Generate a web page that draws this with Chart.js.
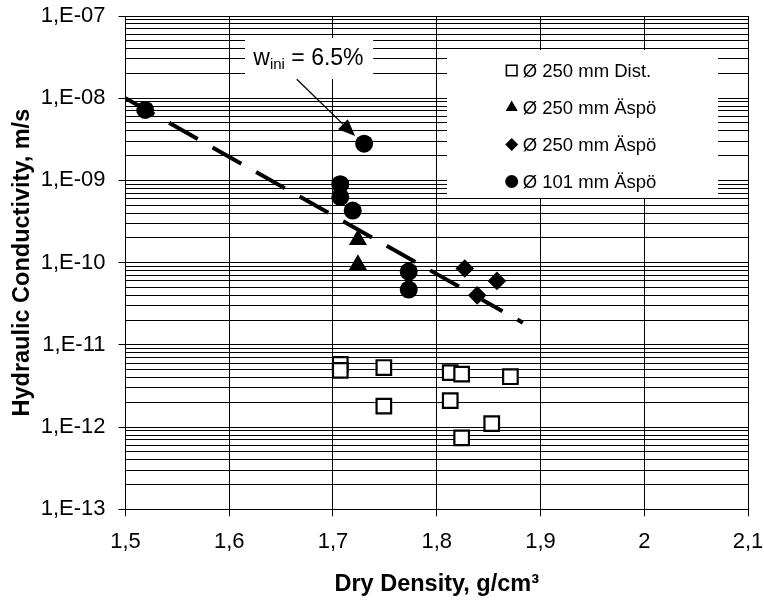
<!DOCTYPE html>
<html>
<head>
<meta charset="utf-8">
<script src="https://cdn.jsdelivr.net/npm/chart.js@4/dist/chart.umd.min.js"></script>
<style>
  html, body { margin: 0; padding: 0; background: #fff; }
  #wrap { width: 764px; height: 603px; }
</style>
</head>
<body>
<div id="wrap"><canvas id="chart" width="764" height="603"></canvas></div>
<script>
const seriesLabels = ["Ø 250 mm Dist.", "Ø 250 mm Äspö", "Ø 250 mm Äspö", "Ø 101 mm Äspö"]

const distX = [1.707, 1.707, 1.749, 1.749, 1.813, 1.824, 1.871, 1.813, 1.853, 1.824]
const distY = [5.8e-12, 4.9e-12, 5.3e-12, 1.8e-12, 4.6e-12, 4.4e-12, 4.1e-12, 2.1e-12, 1.1e-12, 7.4e-13]

const triX = [1.724, 1.724]
const triY = [1.9e-10, 9.4e-11]

const diaX = [1.827, 1.858, 1.839]
const diaY = [8.5e-11, 6.0e-11, 4.0e-11]

const circX = [1.519, 1.73, 1.707, 1.707, 1.719, 1.773, 1.773]
const circY = [7.2e-9, 2.8e-9, 9.0e-10, 6.3e-10, 4.3e-10, 7.8e-11, 4.7e-11]

const trendX = [1.5, 1.883]
const trendY = [1e-8, 1.86e-11]

const xTicks = [1.5, 1.6, 1.7, 1.8, 1.9, 2.0, 2.1]
const xTickLabels = ["1,5", "1,6", "1,7", "1,8", "1,9", "2", "2,1"]
const yExps = [-13, -12, -11, -10, -9, -8, -7]
const yTickLabels = ["1,E-13", "1,E-12", "1,E-11", "1,E-10", "1,E-09", "1,E-08", "1,E-07"]

const FONT = "'Liberation Sans', Arial, sans-serif"

const toPoints = (xs, ys) => xs.map((x, i) => ({ x, y: ys[i] }))

const isDecade = (v) => {
  const e = Math.round(Math.log10(v))
  return Math.abs(v / Math.pow(10, e) - 1) < 1e-6
}

const markerStyles = [
  { pointStyle: "rect", radius: 7.5, borderWidth: 1.6, fill: "#fff" },
  { pointStyle: "triangle", radius: 7, borderWidth: 0, fill: "#000" },
  { pointStyle: "rectRot", radius: 6.5, borderWidth: 0, fill: "#000" },
  { pointStyle: "circle", radius: 6.5, borderWidth: 0, fill: "#000" },
]

const extras = {
  id: "extras",
  beforeDatasetsDraw(chart) {
    const { ctx, scales } = chart
    const x = scales.x
    const y = scales.y
    ctx.save()
    ctx.fillStyle = "#fff"
    // legend background
    ctx.fillRect(447, 50, 271, 148)
    // annotation background
    const bx1 = x.getPixelForValue(1.6152)
    const bx2 = x.getPixelForValue(1.7387)
    const by1 = y.getPixelForValue(5.4e-8)
    const by2 = y.getPixelForValue(1.71e-8)
    ctx.fillRect(bx1, by1, bx2 - bx1, by2 - by1)
    ctx.restore()
  },
  afterDatasetsDraw(chart) {
    const { ctx, scales } = chart
    const x = scales.x
    const y = scales.y
    ctx.save()

    // arrow
    const tx = x.getPixelForValue(1.6651)
    const ty = y.getPixelForValue(1.7e-8)
    const hx = x.getPixelForValue(1.7213)
    const hy = y.getPixelForValue(3.47e-9)
    const ang = Math.atan2(hy - ty, hx - tx)
    const headLen = 17
    const headW = 7
    const bxp = hx - headLen * Math.cos(ang)
    const byp = hy - headLen * Math.sin(ang)
    ctx.strokeStyle = "#000"
    ctx.lineWidth = 1.3
    ctx.beginPath()
    ctx.moveTo(tx, ty)
    ctx.lineTo(bxp, byp)
    ctx.stroke()
    ctx.fillStyle = "#000"
    ctx.beginPath()
    ctx.moveTo(hx, hy)
    ctx.lineTo(bxp + headW * Math.sin(ang), byp - headW * Math.cos(ang))
    ctx.lineTo(bxp - headW * Math.sin(ang), byp + headW * Math.cos(ang))
    ctx.closePath()
    ctx.fill()

    // annotation text
    let ax = x.getPixelForValue(1.6232)
    const ay = y.getPixelForValue(2.53e-8)
    ctx.textBaseline = "alphabetic"
    ctx.textAlign = "left"
    ctx.font = "23px " + FONT
    ctx.fillText("w", ax, ay)
    ax += ctx.measureText("w").width
    ctx.font = "15px " + FONT
    ctx.fillText("ini", ax, ay + 4)
    ax += ctx.measureText("ini").width
    ctx.font = "23px " + FONT
    ctx.fillText(" = 6.5%", ax, ay)

    // legend
    ctx.font = "18.5px " + FONT
    seriesLabels.forEach((label, i) => {
      const cy = 70.5 + i * 37
      const m = markerStyles[i]
      ctx.fillStyle = m.fill
      ctx.strokeStyle = "#000"
      ctx.lineWidth = m.borderWidth
      Chart.helpers.drawPoint(ctx, { pointStyle: m.pointStyle, radius: m.radius, rotation: 0, borderWidth: m.borderWidth }, 511.7, cy)
      ctx.fillStyle = "#000"
      ctx.fillText(label, 522.7, cy + 6.6)
    })
    ctx.restore()
  },
}

new Chart(document.getElementById("chart"), {
  type: "scatter",
  data: {
    datasets: [
      {
        label: seriesLabels[0],
        data: toPoints(distX, distY),
        pointStyle: "rect",
        pointRadius: 10.3,
        pointBorderWidth: 2.2,
        pointBackgroundColor: "#fff",
        pointBorderColor: "#000",
      },
      {
        label: seriesLabels[1],
        data: toPoints(triX, triY),
        pointStyle: "triangle",
        pointRadius: 10.5,
        pointBorderWidth: 0,
        pointBackgroundColor: "#000",
        pointBorderColor: "#000",
      },
      {
        label: seriesLabels[2],
        data: toPoints(diaX, diaY),
        pointStyle: "rectRot",
        pointRadius: 9.3,
        pointBorderWidth: 0,
        pointBackgroundColor: "#000",
        pointBorderColor: "#000",
      },
      {
        label: seriesLabels[3],
        data: toPoints(circX, circY),
        pointStyle: "circle",
        pointRadius: 9,
        pointBorderWidth: 0,
        pointBackgroundColor: "#000",
        pointBorderColor: "#000",
      },
      {
        type: "line",
        label: "trend",
        data: toPoints(trendX, trendY),
        showLine: true,
        borderColor: "#000",
        borderWidth: 4,
        borderDash: [33, 17],
        borderCapStyle: "butt",
        pointRadius: 0,
        fill: false,
      },
    ],
  },
  options: {
    responsive: false,
    animation: false,
    events: [],
    layout: { padding: { top: 16, right: 16, left: 0, bottom: 0 } },
    plugins: {
      legend: { display: false },
      tooltip: { enabled: false },
    },
    scales: {
      x: {
        type: "linear",
        min: 1.5,
        max: 2.1,
        afterFit: (scale) => {
          scale.height = 93.7
          scale.paddingLeft = 0
          scale.paddingRight = 0
        },
        afterBuildTicks: (scale) => { scale.ticks = xTicks.map((v) => ({ value: v })) },
        ticks: {
          autoSkip: false,
          maxRotation: 0,
          padding: 12,
          color: "#000",
          font: { family: FONT, size: 22 },
          callback: (v, i) => xTickLabels[i],
        },
        grid: { color: "#000", lineWidth: 1, tickLength: 7, tickColor: "#000" },
        border: { display: true, color: "#000", width: 1 },
        title: {
          display: true,
          text: "Dry Density, g/cm³",
          color: "#000",
          font: { family: FONT, size: 23.5, weight: "bold" },
          padding: { top: 0, bottom: 4 },
        },
      },
      y: {
        type: "logarithmic",
        min: 1e-13,
        max: 1e-7,
        afterFit: (scale) => {
          scale.width = 125.5
          scale.paddingTop = 0
          scale.paddingBottom = 0
        },
        afterBuildTicks: (scale) => {
          const ticks = []
          yExps.forEach((e) => {
            if (e === yExps[yExps.length - 1]) {
              ticks.push({ value: Math.pow(10, e) })
              return
            }
            for (let m = 1; m <= 9; m++) ticks.push({ value: Number((m * Math.pow(10, e)).toPrecision(3)) })
          })
          scale.ticks = ticks
        },
        ticks: {
          autoSkip: false,
          padding: 13,
          color: "#000",
          font: { family: FONT, size: 22 },
          callback: (v) => {
            if (!isDecade(v)) return ""
            const e = Math.round(Math.log10(v))
            return yTickLabels[yExps.indexOf(e)]
          },
        },
        grid: {
          color: "#000",
          lineWidth: 1,
          tickLength: 7,
          tickColor: (ctx) => (ctx.tick && isDecade(ctx.tick.value) ? "#000" : "rgba(0,0,0,0)"),
        },
        border: { display: true, color: "#000", width: 1 },
        title: {
          display: true,
          text: "Hydraulic Conductivity, m/s",
          color: "#000",
          font: { family: FONT, size: 23.5, weight: "bold" },
          padding: { top: 8, bottom: 0 },
        },
      },
    },
  },
  plugins: [extras],
})
</script>
</body>
</html>
